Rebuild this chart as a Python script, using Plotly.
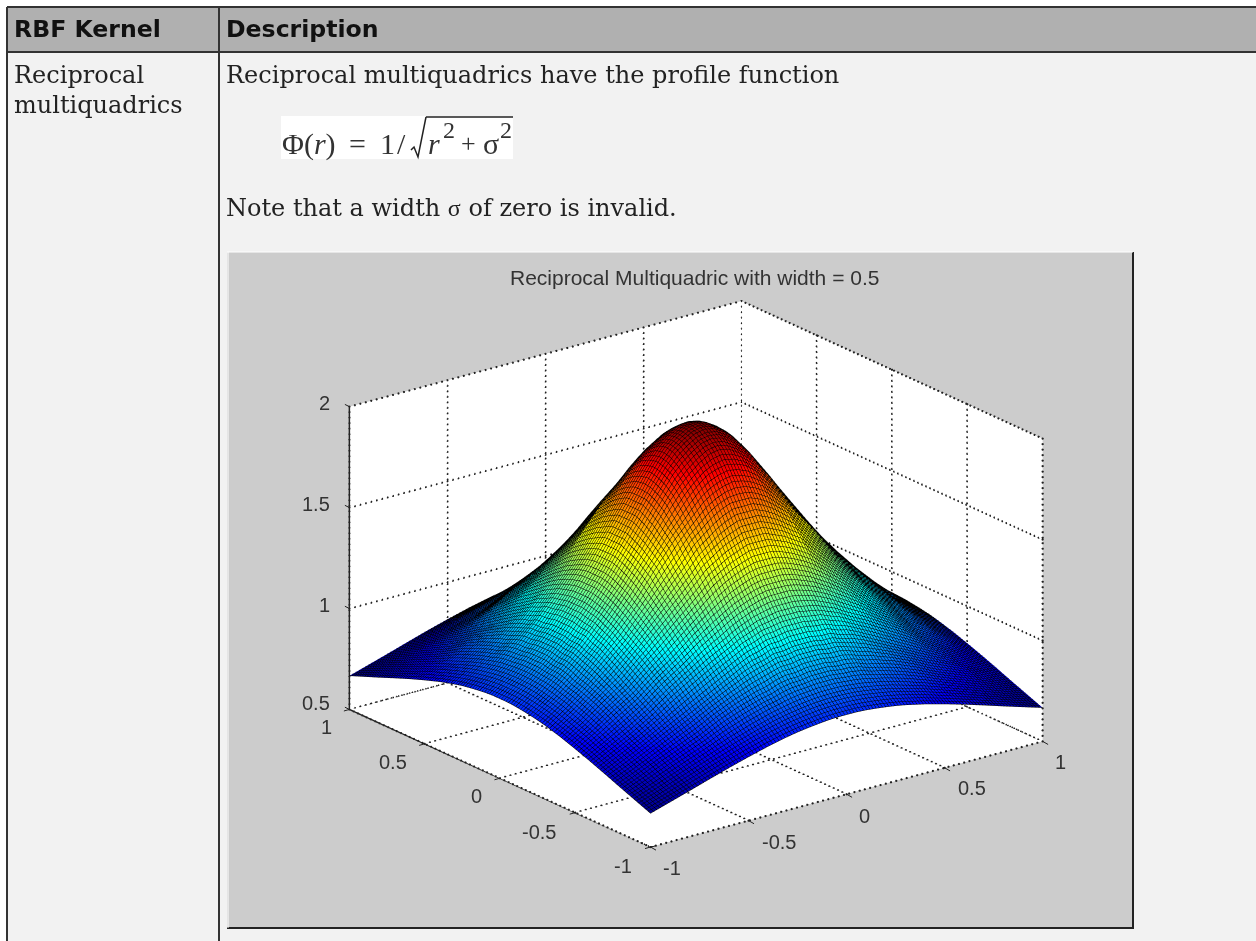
import plotly.graph_objects as go

# ---------- data ----------
header_labels = ["RBF Kernel", "Description"]
kernel_lines = ["Reciprocal", "multiquadrics"]
intro_text = "Reciprocal multiquadrics have the profile function"
note_text = ("Note that a width <span style='font-size:24px;font-family:Liberation Serif'>σ</span> "
             "of zero is invalid.")
chart_title = "Reciprocal Multiquadric with width = 0.5"

# the surface is symmetric about x=0 and y=0: one quadrant is read, the rest mirrors it
coord_half = [0, .05, .1, .15, .2, .25, .3, .4, .5, .6, .7, .8, .9, 1]
z_quadrant = [
    [2.00,1.99,1.96,1.92,1.86,1.79,1.71,1.56,1.41,1.28,1.16,1.06,.971,.894],
    [1.99,1.98,1.95,1.91,1.85,1.78,1.71,1.56,1.41,1.28,1.16,1.06,.970,.894],
    [1.96,1.95,1.92,1.88,1.83,1.76,1.69,1.54,1.40,1.27,1.15,1.05,.967,.891],
    [1.92,1.91,1.88,1.84,1.79,1.73,1.66,1.52,1.38,1.26,1.15,1.05,.961,.886],
    [1.86,1.85,1.83,1.79,1.74,1.68,1.62,1.49,1.36,1.24,1.13,1.04,.953,.880],
    [1.79,1.78,1.76,1.73,1.68,1.63,1.58,1.46,1.33,1.22,1.12,1.02,.944,.873],
    [1.71,1.71,1.69,1.66,1.62,1.58,1.52,1.41,1.30,1.19,1.10,1.01,.933,.864],
    [1.56,1.56,1.54,1.52,1.49,1.46,1.41,1.32,1.23,1.14,1.05,.98,.905,.842],
    [1.41,1.41,1.40,1.38,1.36,1.33,1.30,1.23,1.15,1.08,1.00,.94,.874,.816],
    [1.28,1.28,1.27,1.26,1.24,1.22,1.19,1.14,1.08,1.02,.95,.89,.839,.788],
    [1.16,1.16,1.15,1.15,1.13,1.12,1.10,1.05,1.00,.95,.90,.85,.803,.758],
    [1.06,1.06,1.05,1.05,1.04,1.02,1.01,.98,.94,.89,.85,.81,.767,.727],
    [.971,.970,.967,.961,.953,.944,.933,.905,.874,.839,.803,.767,.731,.697],
    [.894,.894,.891,.886,.880,.873,.864,.842,.816,.788,.758,.727,.697,.667],
]
xy_ticks = [-1, -0.5, 0, 0.5, 1]
xy_tick_labels = ["-1", "-0.5", "0", "0.5", "1"]
z_ticks = [0.5, 1, 1.5, 2]
z_tick_labels = ["0.5", "1", "1.5", "2"]

jet_colorscale = [
    [0.0, "#00008f"], [0.125, "#0000ff"], [0.375, "#00ffff"],
    [0.625, "#ffff00"], [0.875, "#ff0000"], [1.0, "#800000"],
]

x_values = [-v for v in coord_half[:0:-1]] + coord_half
y_values = list(x_values)
_half_rows = [row[:0:-1] + row for row in z_quadrant]
z_values = _half_rows[:0:-1] + _half_rows

W, H = 1256, 941
def px(v): return v / W
def py(v): return 1 - v / H

fig = go.Figure()

# dotted grid on the back walls and the floor, drawn from the tick positions
gx, gy, gz = [], [], []
def dotted(p, q, n):
    for k in range(n + 1):
        f = k / n
        gx.append(p[0] + (q[0] - p[0]) * f)
        gy.append(p[1] + (q[1] - p[1]) * f)
        gz.append(p[2] + (q[2] - p[2]) * f)
x0, x1 = xy_ticks[0], xy_ticks[-1]
z0, z1 = z_ticks[0], z_ticks[-1]
for t in xy_ticks:
    dotted((t, x0, z0), (t, x1, z0), 70)
    dotted((x0, t, z0), (x1, t, z0), 75)
    dotted((t, x1, z0), (t, x1, z1), 55)
    dotted((x1, t, z0), (x1, t, z1), 55)
for t in z_ticks:
    dotted((x0, x1, t), (x1, x1, t), 72)
    dotted((x1, x1, t), (x1, x0, t), 75)
fig.add_trace(go.Scatter3d(x=gx, y=gy, z=gz, mode="markers", hoverinfo="skip", showlegend=False,
                           marker=dict(color="#222222", size=1.3, symbol="circle", line=dict(width=0))))

# solid axis lines on the three outer edges
fig.add_trace(go.Scatter3d(
    x=[x0, x0, None, x0, x0, x1], y=[x1, x1, None, x1, x0, x0], z=[z0, z1, None, z0, z0, z0],
    mode="lines", hoverinfo="skip", showlegend=False, line=dict(color="#222222", width=3)))

fig.add_trace(go.Surface(
    x=x_values, y=y_values, z=z_values, colorscale=jet_colorscale, cmin=0.667, cmax=2.0,
    showscale=False, hoverinfo="skip",
    lighting=dict(ambient=1, diffuse=0, specular=0, roughness=1, fresnel=0),
    contours=dict(
        x=dict(show=True, start=-1, end=1, size=0.016, color="#000000", width=1),
        y=dict(show=True, start=-1, end=1, size=0.016, color="#000000", width=1),
    ),
))

def axis3d(rng):
    return dict(
        range=rng, showgrid=False, zeroline=False, showbackground=True, backgroundcolor="#ffffff",
        showline=False, ticks="", showspikes=False, title=dict(text=""), showticklabels=False,
    )

R = 1.294
box_scale = 1.545
eye_dir = (-0.5706, -0.743, 0.351)
scene_left, scene_right, scene_top, scene_bottom = 266, 1126, 254, 894

shapes = [
    dict(type="rect", x0=px(7), x1=px(W), y0=py(7), y1=py(H), fillcolor="#f2f2f2", line_width=0, layer="below"),
    dict(type="rect", x0=px(7), x1=px(W), y0=py(7), y1=py(52), fillcolor="#b0b0b0", line_width=0, layer="below"),
    dict(type="line", x0=px(7), x1=px(W), y0=py(7), y1=py(7), line=dict(color="#333333", width=2), layer="below"),
    dict(type="line", x0=px(7), x1=px(W), y0=py(52), y1=py(52), line=dict(color="#333333", width=2), layer="below"),
    dict(type="line", x0=px(7), x1=px(7), y0=py(7), y1=py(H), line=dict(color="#333333", width=2), layer="below"),
    dict(type="line", x0=px(219), x1=px(219), y0=py(7), y1=py(H), line=dict(color="#333333", width=2), layer="below"),
    dict(type="rect", x0=px(281), x1=px(513), y0=py(116), y1=py(159), fillcolor="#ffffff", line_width=0, layer="below"),
    dict(type="line", x0=px(426), x1=px(513), y0=py(117), y1=py(117), line=dict(color="#222222", width=1.5), layer="below"),
    dict(type="path", path=f"M {px(411)} {py(150)} L {px(414)} {py(147)} L {px(418)} {py(157)} L {px(426)} {py(117)}",
         xref="paper", yref="paper", line=dict(color="#222222", width=1.5), layer="below"),
    dict(type="rect", x0=px(227), x1=px(1134), y0=py(252), y1=py(928), fillcolor="#cccccc",
         line_width=0, layer="below"),
    dict(type="line", x0=px(1133), x1=px(1133), y0=py(252), y1=py(929), line=dict(color="#222222", width=2), layer="below"),
    dict(type="line", x0=px(227), x1=px(1134), y0=py(928), y1=py(928), line=dict(color="#222222", width=2), layer="below"),
    dict(type="line", x0=px(228), x1=px(228), y0=py(252), y1=py(928), line=dict(color="#ffffff", width=1), layer="below"),
    dict(type="line", x0=px(227), x1=px(1133), y0=py(252), y1=py(252), line=dict(color="#ffffff", width=1), layer="below"),
]

def note(x, y, text, size=24, family="DejaVu Serif", color="#222222", xanchor="left"):
    return dict(xref="paper", yref="paper", x=px(x - 2 if xanchor == "left" else x), y=py(y), text=text,
                showarrow=False, xanchor=xanchor, yanchor="middle", align="left",
                font=dict(family=family, size=size, color=color))

formula_font = "Liberation Serif"
annotations = [
    note(14, 29, f"<b>{header_labels[0]}</b>", size=23.6, family="DejaVu Sans", color="#111111"),
    note(226, 29, f"<b>{header_labels[1]}</b>", size=23.6, family="DejaVu Sans", color="#111111"),
    note(14, 75, kernel_lines[0]),
    note(14, 105, kernel_lines[1]),
    note(226, 75, intro_text),
    note(282, 144, "Φ(<i>r</i>)", size=30, family=formula_font, color="#333333"),
    note(349, 144, "=", size=30, family=formula_font, color="#333333"),
    note(380, 144, "1", size=30, family=formula_font, color="#333333"),
    note(397, 144, "/", size=30, family=formula_font, color="#333333"),
    note(428, 144, "<i>r</i>", size=30, family=formula_font, color="#333333"),
    note(443, 130, "2", size=24, family=formula_font, color="#333333"),
    note(461, 144, "+", size=26, family=formula_font, color="#333333"),
    note(483, 144, "σ", size=30, family=formula_font, color="#333333"),
    note(500, 130, "2", size=24, family=formula_font, color="#333333"),
    note(226, 208, note_text),
    note(694, 277, chart_title, size=21, family="Liberation Sans", color="#333333", xanchor="center"),
]

tick_font = dict(family="Liberation Sans", size=20, color="#333333")
z_label_shifts = [(-17, 6), (-17, 4), (-17, 4), (-17, 4)]
y_label_shifts = [(-28, -19), (-36, -19), (-23, -18), (-32, -18), (-23, -18)]
x_label_shifts = [(21, -21), (30, -21), (18, -22), (27, -20), (18, -21)]
scene_annotations = []
def tick_mark(x, y, z, ax, ay):
    return dict(x=x, y=y, z=z, text="", showarrow=True, arrowhead=0, arrowwidth=1, arrowcolor="#222222",
                ax=ax, ay=ay, standoff=0)
for t, s, (dx, dy) in zip(z_ticks, z_tick_labels, z_label_shifts):
    scene_annotations.append(dict(x=x0, y=x1, z=t, text=s, showarrow=False, xanchor="right", yanchor="middle",
                                  xshift=dx, yshift=dy, font=tick_font))
    scene_annotations.append(tick_mark(x0, x1, t, -6, -3))
for t, s, (dx, dy) in zip(xy_ticks, xy_tick_labels, y_label_shifts):
    scene_annotations.append(dict(x=x0, y=t, z=z0, text=s, showarrow=False, xanchor="center", yanchor="middle",
                                  xshift=dx, yshift=dy, font=tick_font))
    scene_annotations.append(tick_mark(x0, t, z0, -7, 2))
for t, s, (dx, dy) in zip(xy_ticks, xy_tick_labels, x_label_shifts):
    scene_annotations.append(dict(x=t, y=x0, z=z0, text=s, showarrow=False, xanchor="center", yanchor="middle",
                                  xshift=dx, yshift=dy, font=tick_font))
    scene_annotations.append(tick_mark(t, x0, z0, 7, 4))

fig.update_layout(
    width=W, height=H, autosize=False, margin=dict(l=0, r=0, t=0, b=0),
    paper_bgcolor="#ffffff", plot_bgcolor="#ffffff", showlegend=False,
    shapes=shapes, annotations=annotations,
    scene=dict(
        domain=dict(x=[px(scene_left), px(scene_right)], y=[py(scene_bottom), py(scene_top)]),
        bgcolor="rgba(0,0,0,0)",
        xaxis=axis3d([-1, 1]),
        yaxis=axis3d([-1, 1]),
        zaxis=axis3d([0.5, 2]),
        aspectmode="manual",
        aspectratio=dict(x=box_scale, y=box_scale, z=0.654 * box_scale),
        camera=dict(eye=dict(x=R * eye_dir[0], y=R * eye_dir[1], z=R * eye_dir[2]),
                    center=dict(x=0, y=0, z=0), up=dict(x=0, y=0, z=1),
                    projection=dict(type="orthographic")),
        annotations=scene_annotations,
    ),
)

fig.write_html("out.html", config={"displayModeBar": False}, post_script="document.body.style.margin='0';")
